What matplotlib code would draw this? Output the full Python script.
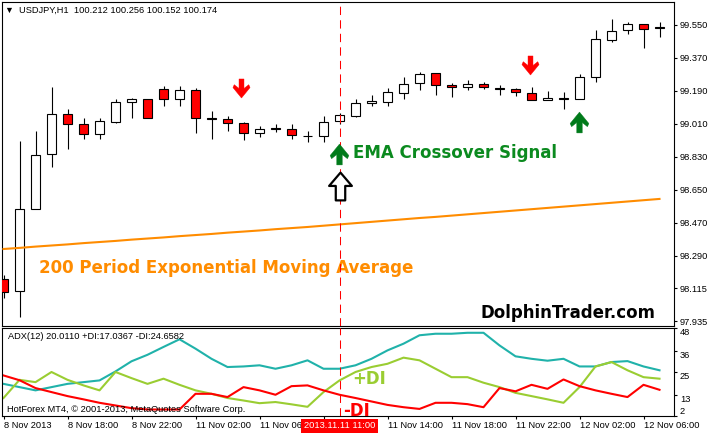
import numpy as np
import matplotlib
matplotlib.use("Agg")
import matplotlib.pyplot as plt
from matplotlib.path import Path

plt.rcParams['font.family'] = ['Liberation Sans', 'DejaVu Sans']

# USDJPY H1, 8 Nov 2013 14:00 .. 12 Nov 2013 07:00 (42 bars)
opens = [98.164, 98.099, 98.545, 98.845, 99.063, 99.008, 98.954, 99.023, 99.128, 99.145,
         99.199, 99.145, 99.194, 99.040, 99.036, 99.014, 98.959, 98.986, 98.984, 98.945,
         98.946, 99.024, 99.055, 99.123, 99.128, 99.177, 99.232, 99.288, 99.221, 99.210,
         99.227, 99.205, 99.199, 99.177, 99.141, 99.149, 99.145, 99.265, 99.467, 99.521,
         99.554, 99.537]
highs = [98.186, 98.917, 98.972, 99.213, 99.090, 99.041, 99.041, 99.146, 99.153, 99.145,
         99.217, 99.217, 99.206, 99.083, 99.054, 99.019, 99.001, 99.008, 99.008, 98.973,
         99.054, 99.070, 99.146, 99.166, 99.208, 99.265, 99.294, 99.288, 99.232, 99.250,
         99.237, 99.223, 99.208, 99.210, 99.190, 99.185, 99.281, 99.521, 99.583, 99.565,
         99.554, 99.565]
lows = [98.061, 97.959, 98.545, 98.777, 98.872, 98.927, 98.927, 99.017, 99.041, 99.041,
        99.110, 99.110, 98.963, 98.930, 98.973, 98.923, 98.941, 98.966, 98.927, 98.910,
        98.913, 99.010, 99.050, 99.110, 99.110, 99.146, 99.195, 99.170, 99.159, 99.195,
        99.203, 99.166, 99.164, 99.141, 99.141, 99.090, 99.145, 99.237, 99.456, 99.499,
        99.423, 99.486]
closes = [98.094, 98.545, 98.839, 99.063, 99.008, 98.954, 99.025, 99.128, 99.145, 99.041,
          99.145, 99.194, 99.041, 99.037, 99.014, 98.959, 98.981, 98.983, 98.948, 98.942,
          99.023, 99.057, 99.123, 99.135, 99.183, 99.227, 99.283, 99.221, 99.210, 99.227,
          99.210, 99.202, 99.183, 99.141, 99.150, 99.146, 99.265, 99.472, 99.519, 99.554,
          99.527, 99.534]

ema200 = [98.328, 98.334, 98.341, 98.347, 98.353, 98.360, 98.366, 98.372, 98.379, 98.385,
          98.391, 98.398, 98.404, 98.410, 98.417, 98.423, 98.429, 98.436, 98.442, 98.448,
          98.455, 98.462, 98.469, 98.476, 98.483, 98.490, 98.497, 98.503, 98.510, 98.517,
          98.524, 98.531, 98.538, 98.545, 98.552, 98.559, 98.566, 98.573, 98.580, 98.587,
          98.594, 98.601]

adx = [18.8, 17.1, 15.4, 17.1, 18.8, 19.7, 20.6, 25.3, 30.6, 34.0,
       38.1, 42.1, 37.2, 31.9, 27.6, 27.9, 28.5, 26.7, 28.5, 31.1,
       26.7, 26.7, 28.5, 31.9, 36.3, 39.8, 44.2, 45.0, 45.0, 45.5,
       45.5, 38.9, 33.2, 31.9, 30.9, 31.9, 27.9, 27.9, 30.2, 30.7,
       27.9, 25.9]
plus_di = [11.4, 20.9, 19.7, 25.0, 20.9, 18.0, 15.4, 25.0, 21.8, 18.8,
           21.5, 18.3, 15.4, 13.6, 11.4, 10.1, 8.7, 9.3, 8.1, 6.8,
           14.5, 20.6, 25.0, 27.6, 29.3, 32.5, 31.1, 26.7, 22.3, 22.3,
           19.4, 17.1, 14.1, 12.4, 10.7, 8.9, 17.1, 27.9, 30.2, 25.9,
           22.3, 21.5]
minus_di = [23.2, 20.7, 16.6, 14.5, 12.4, 10.7, 8.9, 7.5, 6.1, 5.4,
            5.4, 5.4, 13.6, 13.6, 11.9, 17.1, 15.4, 13.1, 17.6, 18.0,
            15.4, 13.1, 11.4, 9.6, 7.8, 6.6, 5.7, 8.9, 8.9, 8.2,
            6.6, 16.6, 14.9, 18.3, 16.2, 21.1, 17.6, 15.4, 13.6, 11.9,
            18.3, 15.7]

time_ticks = [0, 4, 8, 12, 16, 20, 24, 28, 32, 36, 40]
# the 11 Nov 10:00 label sits under the red cursor date box, so it stays blank
time_labels = ["8 Nov 2013", "8 Nov 18:00", "8 Nov 22:00", "11 Nov 02:00", "11 Nov 06:00",
               "", "11 Nov 14:00", "11 Nov 18:00", "11 Nov 22:00",
               "12 Nov 02:00", "12 Nov 06:00"]
price_ticks = [99.55, 99.37, 99.19, 99.01, 98.83, 98.65, 98.47, 98.29, 98.115, 97.935]
adx_ticks = [48, 36, 25, 13, 2]

signal_bar = 21
sell_x, sell_y = [14.87, 32.9], [99.206, 99.332]
buy_x, buy_y = [20.97, 35.94], [98.846, 99.018]
hollow_x, hollow_y = [21.0], [98.672]

x = np.arange(len(opens))
o, h, l, c = map(np.array, (opens, highs, lows, closes))

W, H = 717, 434
fig = plt.figure(figsize=(W / 100, H / 100), dpi=100)


def box(x0, y0, x1, y1):
    return [x0 / W, 1 - y1 / H, (x1 - x0) / W, (y1 - y0) / H]


ax = fig.add_axes(box(2, 2, 674, 326))
ax2 = fig.add_axes(box(2, 328, 674, 416))

# candles
ax.vlines(x, l, h, color='black', lw=0.8, zorder=2)
ax.bar(x, c - o, bottom=o, width=0.62, color=np.where(c >= o, 'white', 'red'),
       edgecolor='black', linewidth=0.8, zorder=3)
ax.plot(x, ema200, color='#ff8c00', lw=1.5, zorder=4)

for a in (ax, ax2):
    a.axvline(signal_bar, color='red', lw=0.75, ls=(0, (8, 5)), zorder=5)
    a.set_xlim(-0.094, 41.906)
    for s in a.spines.values():
        s.set_linewidth(0.8)
        s.set_color('black')

# arrow markers
down = [(-0.13, 0.5), (0.13, 0.5), (0.13, 0.0), (0.38, 0.2), (0.45, 0.05), (0, -0.5),
        (-0.45, 0.05), (-0.38, 0.2), (-0.13, 0.0), (-0.13, 0.5)]
down_path = Path(down, closed=True)
up_path = Path([(vx, -vy) for vx, vy in down], closed=True)
hollow = [(0, 0.5), (0.41, 0.02), (0.17, 0.02), (0.17, -0.5), (-0.17, -0.5), (-0.17, 0.02),
          (-0.41, 0.02), (0, 0.5)]
hollow_path = Path(hollow, closed=True)

ax.plot(sell_x, sell_y, ls='none', marker=down_path, ms=13.7, mfc='red', mec='red',
        mew=0.3, zorder=6)
ax.plot(buy_x, buy_y, ls='none', marker=up_path, ms=15, mfc='#007a1a', mec='#007a1a',
        mew=0.3, zorder=6)
ax.plot(hollow_x, hollow_y, ls='none', marker=hollow_path, ms=20, mfc='white', mec='black',
        mew=1.6, zorder=6)

big = dict(family='DejaVu Sans', fontweight='bold', fontsize=12, va='baseline', ha='left')
ax.text(2.22, 98.199, "200 Period Exponential Moving Average", color='#ff8c00', **big)
ax.text(21.82, 98.823, "EMA Crossover Signal", color='#0b8a1f', **big)
ax.text(29.84, 97.952, "DolphinTrader.com", color='black', **big)

ax.text(0.0104, 0.975, "\u25bc", transform=ax.transAxes, fontsize=6.5, ha='center', va='center')
ax.text(0.0253, 0.975, "USDJPY,H1  100.212 100.256 100.152 100.174", transform=ax.transAxes,
        fontsize=6.7, va='center')

ax.set_ylim(97.908, 99.675)
ax.set_xticks([])
ax.yaxis.tick_right()
ax.set_yticks(price_ticks, ["%.3f" % p for p in price_ticks])
ax.tick_params(axis='y', direction='out', length=2.2, width=0.8, pad=2, labelsize=6.7)

# ADX panel
ax2.plot(x, adx, color='#20b2aa', lw=1.5)
ax2.plot(x, plus_di, color='#9acd32', lw=1.5)
ax2.plot(x, minus_di, color='red', lw=1.5)
ax2.set_ylim(2, 48)
ax2.yaxis.tick_right()
ax2.set_yticks(adx_ticks, [str(t) for t in adx_ticks])
ax2.tick_params(axis='y', direction='out', length=2.2, width=0.8, pad=2, labelsize=6.7)
for lbl, t in zip(ax2.get_yticklabels(), adx_ticks):
    lbl.set_va('bottom' if t == 2 else 'top')
ax2.set_xticks(time_ticks, time_labels, ha='left')
ax2.tick_params(axis='x', direction='out', length=2.2, width=0.8, pad=1.5, labelsize=6.7)

ax2.text(21.82, 18.8, "+DI", color='#9acd32', **big)
ax2.text(21.2, 2.0, "-DI", color='red', clip_on=False, **big)
ax2.text(0.0089, 0.898, "ADX(12) 20.0110 +DI:17.0367 -DI:24.6582", transform=ax2.transAxes,
         fontsize=6.7, va='center')
ax2.text(0.0074, 0.074, "HotForex MT4, \u00a9 2001-2013, MetaQuotes Software Corp.",
         transform=ax2.transAxes, fontsize=6.7, va='center')

ax2.text(signal_bar, -0.11, "2013.11.11 11:00", transform=ax2.get_xaxis_transform(),
         ha='center', va='center', color='white', fontsize=6.7, clip_on=False, zorder=10,
         bbox=dict(boxstyle='square,pad=0.25', fc='red', ec='none'))

fig.savefig('out.png', dpi=100)
